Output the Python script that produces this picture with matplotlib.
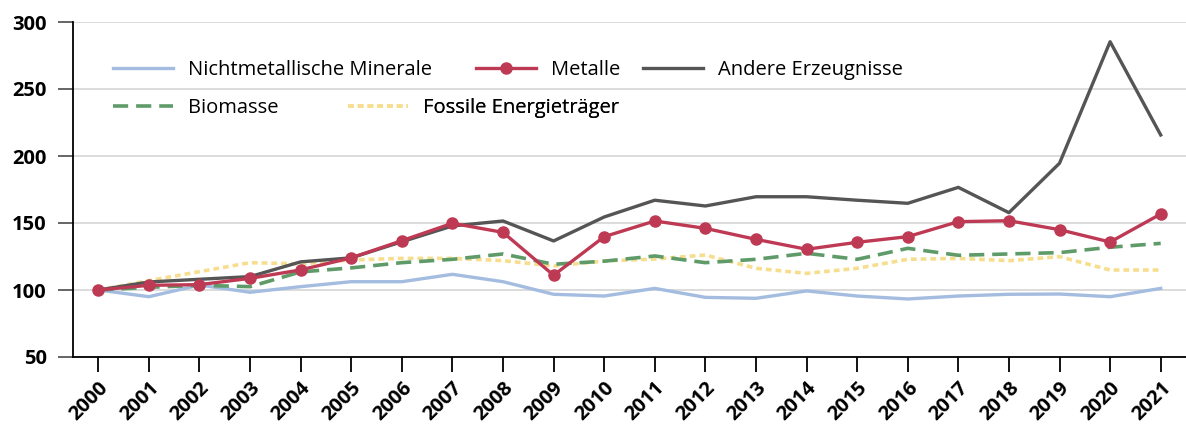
import matplotlib
matplotlib.use('Agg')
import matplotlib.pyplot as plt

# data (index 2000 = 100)
years = [str(y) for y in range(2000, 2022)]
minerale = [100, 95, 103.7, 98.3, 102.5, 106.2, 106.2, 111.7, 106.2, 96.8, 95.5,
            101.2, 94.5, 93.8, 99.3, 95.5, 93.3, 95.5, 96.8, 97, 95, 101.2]
metalle = [100, 103.5, 104, 108.7, 115, 124, 136.8, 149.8, 143, 111, 139.8,
           151.5, 146, 137.8, 130.4, 135.6, 139.8, 151, 151.7, 145, 135.8, 156.7]
andere = [100, 106, 108, 110, 121, 124, 136, 147.8, 151.5, 136.6, 154.5,
          167, 162.7, 169.6, 169.6, 167, 164.7, 176.6, 157.7, 194.6, 285.3, 215.7]
biomasse = [100, 102, 103.5, 102.5, 113.5, 116.5, 120.4, 122.9, 126.9, 119.2, 121.5,
            125.4, 120.4, 122.9, 127.4, 122.9, 131.1, 125.9, 126.9, 127.9, 131.9, 134.8]
fossile = [100, 107, 113.7, 120.4, 119.5, 122.4, 123.6, 123.6, 121.9, 117.9, 121.6,
           123.1, 126.1, 116.2, 112.4, 116.2, 122.9, 123.6, 121.9, 124.9, 114.9, 114.9]
yticks = [50, 100, 150, 200, 250, 300]

c_min = '#A3BCE0'
c_met = '#BE3A54'
c_and = '#555555'
c_bio = '#5E9B69'
c_fos = '#F7DE8F'

plt.rcParams['font.family'] = ['Open Sans', 'DejaVu Sans']

fig = plt.figure(figsize=(11.86, 4.28), dpi=100)
ax = fig.add_axes([73 / 1186, 1 - 357 / 428, 1 - 73 / 1186, (357 - 22) / 428])

x = list(range(len(years)))
l_min, = ax.plot(x, minerale, color=c_min, lw=2.4, zorder=3)
l_fos, = ax.plot(x, fossile, color=c_fos, lw=2.6, dashes=(1.6, 1.1), zorder=4)
l_bio, = ax.plot(x, biomasse, color=c_bio, lw=2.6, dashes=(4.2, 2.2), zorder=5)
l_and, = ax.plot(x, andere, color=c_and, lw=2.4, zorder=6)
l_met, = ax.plot(x, metalle, color=c_met, lw=2.4, marker='o', ms=8, zorder=7)

ax.set_xlim(-0.5, len(years) - 0.5)
ax.set_ylim(50, 300)
ax.set_yticks(yticks)
ax.set_xticks(x)
ax.set_xticklabels(years, rotation=45, ha='right', rotation_mode='anchor')
ax.grid(axis='y', color='#D9D9D9', lw=1.3, zorder=0)
ax.set_axisbelow(True)

for s in ['top', 'right']:
    ax.spines[s].set_visible(False)
ax.spines['left'].set_linewidth(1.3)
ax.spines['bottom'].set_linewidth(1.3)
ax.tick_params(axis='y', length=11, width=1.3, color='#595959', pad=8,
               labelsize=14.5)
ax.tick_params(axis='x', length=11, width=1.3, color='black', pad=4,
               labelsize=14.5)
for t in ax.get_xticklabels() + ax.get_yticklabels():
    t.set_fontweight('bold')

# legend entries, placed like the original
entries = [(l_min, 'Nichtmetallische Minerale', 113, 70),
           (l_met, 'Metalle', 476, 70),
           (l_and, 'Andere Erzeugnisse', 643, 70),
           (l_bio, 'Biomasse', 113, 108),
           (l_fos, 'Fossile Energieträger', 348, 108)]
for h, lab, px, py in entries:
    leg = ax.legend([h], [lab], loc='center left',
                    bbox_to_anchor=(px / 1186, 1 - py / 428),
                    bbox_transform=fig.transFigure, frameon=False,
                    fontsize=14.5, handlelength=3.0, handletextpad=0.7,
                    borderpad=0, borderaxespad=0)
    ax.add_artist(leg)

fig.savefig('out.png', dpi=100)
